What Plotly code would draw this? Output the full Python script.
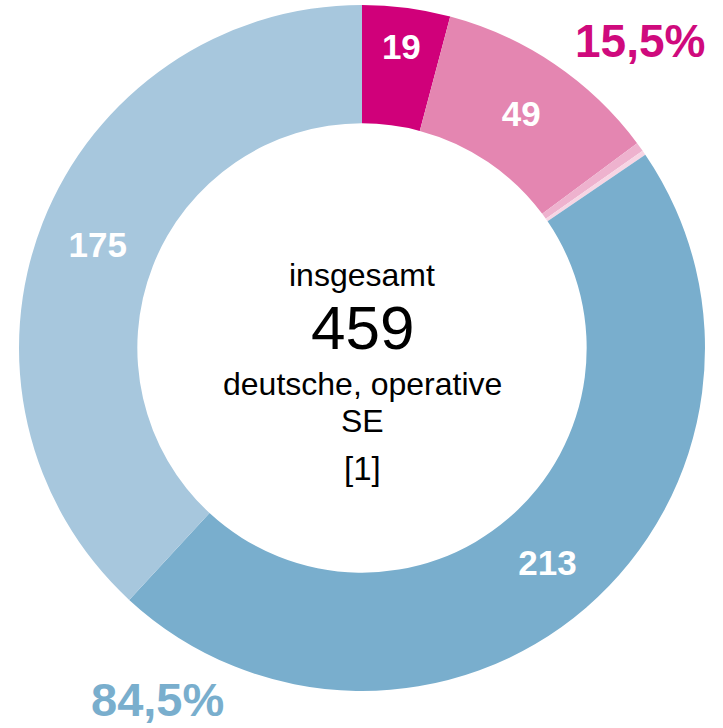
import plotly.graph_objects as go

labels = ["A", "B", "C", "D", "E", "F"]
values = [19, 49, 2, 1, 213, 175]
slice_text = ["19", "49", "", "", "213", "175"]
colors = ["#d0007a", "#e486b1", "#eeb2ce", "#f7d5e4", "#79aecd", "#a7c7dd"]

W, H = 723, 728

fig = go.Figure(go.Pie(
    labels=labels, values=values, text=slice_text,
    texttemplate="%{text}", textinfo="text",
    textposition="inside", insidetextorientation="horizontal",
    textfont=dict(family="Liberation Sans, Arial", size=35, color="white", weight="bold"),
    marker=dict(colors=colors, line=dict(width=0)),
    hole=0.655, sort=False, direction="clockwise", rotation=0,
    domain=dict(x=[19/W, 705/W], y=[1-691/H, 1-5/H]),
    showlegend=False, hoverinfo="skip",
))

def ann(text, px, py, size, color="black", bold=False, yanchor="middle"):
    fig.add_annotation(x=px/W, y=1-py/H, xref="paper", yref="paper",
                       text=f"<b>{text}</b>" if bold else text, showarrow=False,
                       xanchor="center", yanchor=yanchor,
                       font=dict(family="Liberation Sans, Arial", size=size, color=color))

ann("insgesamt", 362, 275, 32)
ann("459", 362, 328, 62)
ann("deutsche, operative", 362, 384, 32)
ann("SE", 362, 421, 32)
ann("[1]", 362, 468, 33)
ann("15,5%", 640, 41, 46, color="#cf0a7d", bold=True)
ann("84,5%", 157, H, 47, color="#79aecd", bold=True, yanchor="bottom")

fig.update_layout(width=W, height=H, margin=dict(l=0, r=0, t=0, b=0),
                  paper_bgcolor="white", plot_bgcolor="white",
                  uniformtext=dict(minsize=35, mode="show"))
fig.write_html("out.html", config={"displayModeBar": False})

with open("out.html", "r", encoding="utf-8") as f:
    html = f.read()
html = html.replace("<body>", '<body style="margin:0;padding:0;overflow:hidden">', 1)
with open("out.html", "w", encoding="utf-8") as f:
    f.write(html)
